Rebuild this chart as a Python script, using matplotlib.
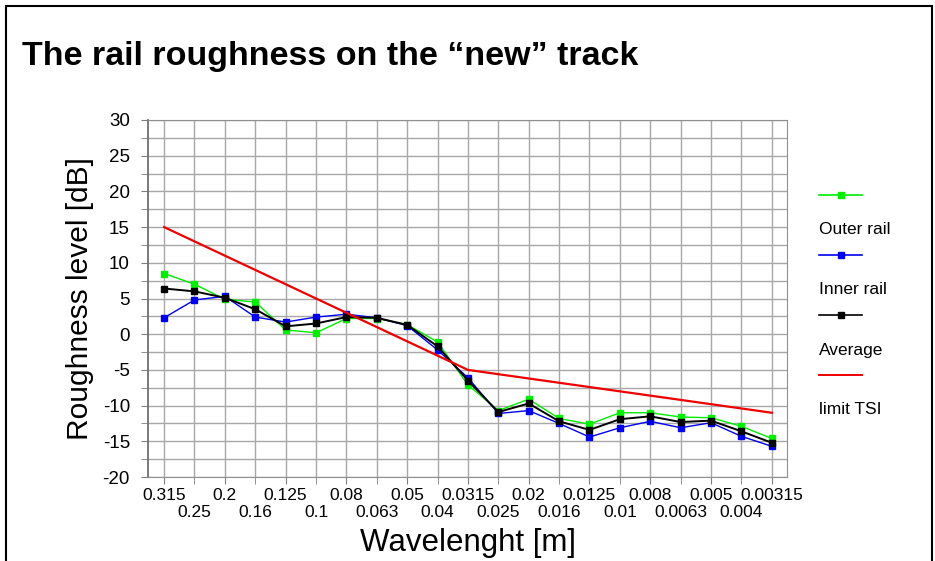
import matplotlib
matplotlib.use('Agg')
import matplotlib.pyplot as plt
from matplotlib.lines import Line2D
from matplotlib.patches import Rectangle

plt.rcParams['font.family'] = ['Liberation Sans', 'DejaVu Sans']
plt.rcParams['axes.unicode_minus'] = False

# wavelengths [m] (category axis)
wavelengths = ['0.315', '0.25', '0.2', '0.16', '0.125', '0.1', '0.08', '0.063', '0.05', '0.04',
               '0.0315', '0.025', '0.02', '0.016', '0.0125', '0.01', '0.008', '0.0063', '0.005',
               '0.004', '0.00315']

# roughness levels [dB]
outer_rail = [8.5, 7.0, 4.9, 4.5, 0.6, 0.2, 2.2, 2.2, 1.35, -1.1, -7.1, -10.7, -9.1, -11.8,
              -12.6, -11.0, -11.0, -11.6, -11.7, -12.9, -14.6]
inner_rail = [2.3, 4.8, 5.3, 2.4, 1.7, 2.4, 2.8, 2.3, 1.2, -2.2, -6.1, -11.1, -10.7, -12.5,
              -14.4, -13.1, -12.2, -13.1, -12.4, -14.3, -15.7]
average = [6.4, 6.0, 5.1, 3.5, 1.1, 1.5, 2.4, 2.3, 1.3, -1.7, -6.5, -10.9, -9.7, -12.2,
           -13.4, -11.9, -11.5, -12.3, -12.1, -13.6, -15.2]
limit_tsi = [15.0, 13.0, 11.0, 9.0, 7.0, 5.0, 3.0, 1.0, -1.0, -3.0, -5.0, -5.6, -6.2, -6.8,
             -7.4, -8.0, -8.6, -9.2, -9.8, -10.4, -11.0]

fig = plt.figure(figsize=(9.35, 5.61), dpi=100)
ax = fig.add_axes([0.1583, 0.1497, 0.6834, 0.6364])

x = list(range(len(wavelengths)))
ax.plot(x, outer_rail, color='#00ee00', lw=1.0, marker='s', ms=4.5, mec='#00ee00', zorder=3)
ax.plot(x, inner_rail, color='#0000ee', lw=1.0, marker='s', ms=4.5, mec='#0000ee', zorder=3)
ax.plot(x, average, color='black', lw=1.4, marker='s', ms=4.5, mec='black', zorder=4)
ax.plot(x, limit_tsi, color='#ee0000', lw=1.6, zorder=5)

ax.set_xlim(-0.53, 20.5)
ax.set_ylim(-20, 30)
# alternate wavelengths on two rows: even ones as major ticks, odd ones as minor ticks
ax.set_xticks(x[::2])
ax.set_xticklabels(wavelengths[::2], fontsize=12.5)
ax.set_xticks(x[1::2], minor=True)
ax.set_xticklabels(wavelengths[1::2], minor=True, fontsize=12.5)
ax.tick_params(axis='x', which='major', length=5, color='#808080', pad=3)
ax.tick_params(axis='x', which='minor', length=5, color='#808080', pad=15)
ax.set_yticks(range(-20, 31, 5))
ax.set_yticks([v + 2.5 for v in range(-20, 30, 5)], minor=True)
ax.tick_params(axis='y', which='both', labelsize=13.5, length=5, color='#808080', pad=8)
ax.grid(True, which='both', color='#a8a8a8', lw=1.0)
ax.set_axisbelow(True)
for s in ax.spines.values():
    s.set_color('#909090')
ax.spines['left'].set_color('#707070')
ax.spines['left'].set_linewidth(1.3)

ax.set_ylabel('Roughness level [dB]', fontsize=21.5, labelpad=6)
ax.set_xlabel('Wavelenght [m]', fontsize=22.5, labelpad=6)

fig.text(0.0235, 0.90, 'The rail roughness on the \u201cnew\u201d track', fontsize=24.5,
         fontweight='bold', va='center', ha='left')

# legend: line sample with its label below it
leg_items = [('#00ee00', 's', 'Outer rail'), ('#0000ee', 's', 'Inner rail'),
             ('black', 's', 'Average'), ('#ee0000', None, 'limit TSI')]
for i, (c, m, lab) in enumerate(leg_items):
    yl = 1 - (194.7 + 60 * i) / 561
    yt = 1 - (230 + 60 * i) / 561
    fig.add_artist(Line2D([819 / 935, 862 / 935], [yl, yl], transform=fig.transFigure, color=c,
                          lw=1.2 if m else 1.4))
    if m:
        fig.add_artist(Line2D([840.5 / 935], [yl], transform=fig.transFigure, marker=m,
                              ms=4.5, color=c, lw=0))
    fig.text(819 / 935, yt, lab, fontsize=12.5, va='center', ha='left')

fig.add_artist(Rectangle((6 / 935, -0.05), 926 / 935, 1.05 - 6 / 561, transform=fig.transFigure,
                         fill=False, ec='black', lw=1.5))

fig.savefig('out.png', dpi=100)
